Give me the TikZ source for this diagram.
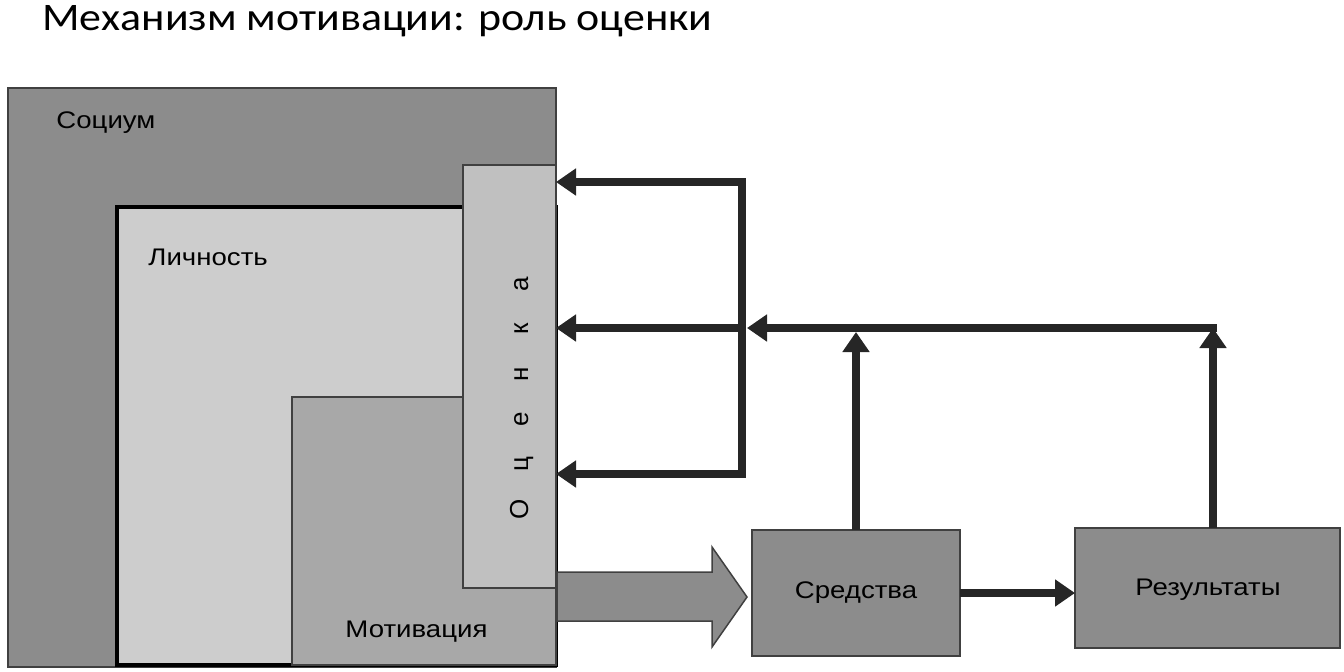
\documentclass[tikz,border=0pt]{standalone}
\usepackage{fontspec}
\setmainfont{Liberation Sans}
\newfontfamily\titlefont{Carlito}
\usetikzlibrary{arrows.meta}
\definecolor{gsoc}{HTML}{8C8C8C}
\definecolor{glich}{HTML}{CDCDCD}
\definecolor{gmot}{HTML}{A8A8A8}
\definecolor{gocen}{HTML}{C0C0C0}
\definecolor{gline}{HTML}{262626}
\definecolor{gedge}{HTML}{404040}
\newcommand\oltr[1]{\makebox[22.5pt]{#1}}
\begin{document}
\begin{tikzpicture}[x=0.5pt,y=-0.5pt,
  pxbox/.style n args={4}{anchor=north west, at={(#1,#2)},
    minimum width={(#3-#1)*0.5pt}, minimum height={(#4-#2)*0.5pt},
    inner sep=0pt, outer sep=0pt},
  panel/.style={draw=gedge, line width=0.75pt},
  lbl/.style={font=\fontsize{12}{14}\selectfont, inner sep=0pt, xscale=1.15},
  arr/.style={draw=gline, line width=4pt, -{Triangle[length=10pt,width=13pt]}},
  link/.style={draw=gline, line width=4pt},
]
\useasboundingbox (0,0) rectangle (1344,671);
% title
\node[anchor=base west, inner sep=0pt, font=\titlefont\fontsize{19.5}{22}\selectfont, xscale=1.125]
  (title) at (42,30) {Механизм мотивации: роль оценки};
% nested panels
\node[pxbox={8}{88}{556}{667}, panel, fill=gsoc] (socium) {};
\node[pxbox={117}{207}{556}{665}, draw=black, line width=2pt, fill=glich] (lichnost) {};
\node[pxbox={292}{397}{556}{665}, panel, fill=gmot] (motiv) {};
\node[pxbox={463}{165}{556}{588}, panel, fill=gocen] (ocenka) {};
\node[lbl, anchor=base west] (soclbl) at (56,128) {Социум};
\node[lbl, anchor=base west] (lichlbl) at (148,265) {Личность};
\node[lbl, anchor=base west] (motlbl) at (345,637) {Мотивация};
\node[rotate=90, anchor=base, inner sep=0pt, font=\fontsize{13}{15}\selectfont]
  (ocenlbl) at (528,396.5) {\oltr{О}\oltr{ц}\oltr{е}\oltr{н}\oltr{к}\oltr{а}};
% right boxes
\node[pxbox={752}{530}{960}{656}, panel, fill=gsoc] (sredstva) {};
\node[pxbox={1075}{528}{1340}{648}, panel, fill=gsoc] (results) {};
\node[lbl] (sredlbl) at (sredstva.center) {Средства};
\node[lbl] (reslbl) at (1208,590) {Результаты};
% block arrow from motivation to means
\path[fill=gsoc, draw=gedge, line width=0.75pt]
  (557,572) -- (712,572) -- (712,547) -- (747,597) -- (712,647) -- (712,621) -- (557,621) -- cycle;
% feedback connectors
\coordinate (jt) at (742,182);
\coordinate (jm) at (742,328);
\coordinate (jb) at (742,474);
\coordinate (jin) at (747,328);
\coordinate (rtop) at (1213,528);
\coordinate (rcorner) at (1213,328);
\draw[arr] (jm) -- (jt) -- (jt -| ocenka.east);
\draw[arr] (jm) -- (jb) -- (jb -| ocenka.east);
\draw[arr] (jm) -- (jm -| ocenka.east);
\draw[arr] ([xshift=2pt]rcorner) -- (jin);
\draw[arr, shorten >=2pt] (sredstva.north) -- (sredstva.north |- jm);
\draw[arr] (rtop) -- (rcorner);
\draw[arr] (sredstva.east) -- (results.west |- sredstva.east);
\end{tikzpicture}
\end{document}
